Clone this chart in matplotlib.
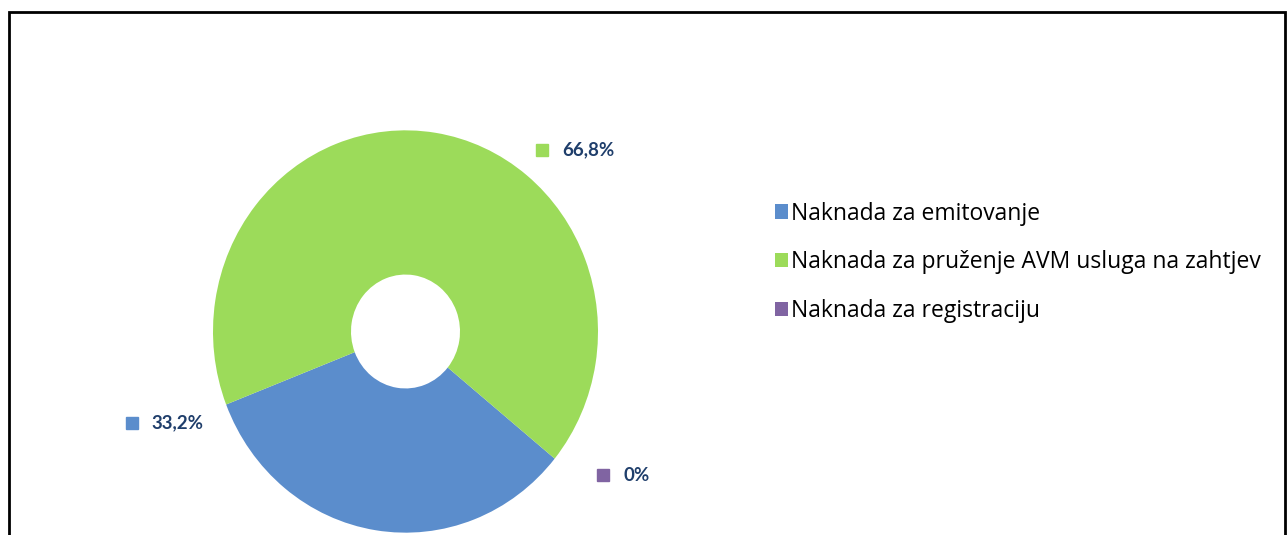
import matplotlib.pyplot as plt
from matplotlib.patches import Patch, Rectangle

categories = ["Naknada za emitovanje",
              "Naknada za pruženje AVM usluga na zahtjev",
              "Naknada za registraciju"]
shares = [33.2, 66.8, 0.0]
share_labels = ["33,2%", "66,8%", "0%"]
colors = ["#5b8dcc", "#9cdb5a", "#8064a2"]

# where Excel put the data labels (axes data units)
label_pos = [(-1.269, -0.438), (0.7825, 0.868), (1.0875, -0.687)]

fig = plt.figure(figsize=(12.87, 5.35), dpi=100)

# outer chart frame (bottom edge falls outside the picture)
fig.patches.append(Rectangle((9 / 1287, -0.1), 1276 / 1287, 1.1 - 12 / 535,
                             transform=fig.transFigure, fill=False,
                             edgecolor="black", linewidth=2))

# donut is slightly taller than wide in the original
ax = fig.add_axes([(405.5 - 250) / 1287, (535 - 331.5 - 261.25) / 535,
                   500 / 1287, 522.5 / 535])
wedges, _ = ax.pie(shares, colors=colors, radius=0.9625, startangle=-39.2,
                   counterclock=False,
                   wedgeprops=dict(width=0.69, edgecolor="none"))
ax.set_xlim(-1.25, 1.25)
ax.set_ylim(-1.25, 1.25)
ax.set_aspect("auto")
ax.axis("off")

for (x, y), txt, c in zip(label_pos, share_labels, colors):
    ax.plot(x - 0.1, y, marker="s", markersize=8, color=c, clip_on=False)
    ax.text(x, y, txt, ha="left", va="center", fontsize=13.5, fontweight="bold",
            color="#1f3e6b", family="Lato")

handles = [Patch(facecolor=c, edgecolor="none") for c in colors]
leg = fig.legend(handles, categories, loc="upper left",
                 bbox_to_anchor=(754 / 1287, 1 - 181 / 535),
                 frameon=False, handlelength=0.58, handleheight=0.58,
                 handletextpad=0.12, labelspacing=1.08,
                 prop={"family": "Open Sans", "size": 16.5})

fig.savefig("out.png", dpi=100)
